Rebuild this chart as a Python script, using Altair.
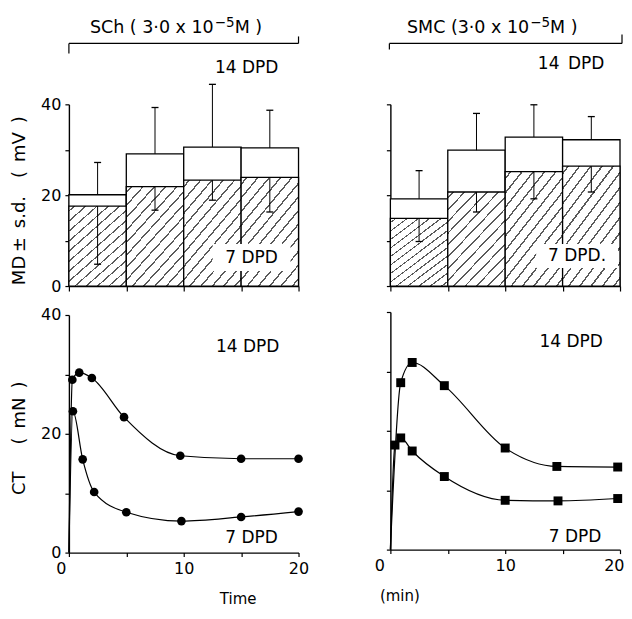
import altair as alt
import pandas as pd

FONT = "DejaVu Sans"
W = 230
HT = 182
HB = 238
EN = "\u2002"

# ---- data: membrane depolarisation bars (mV) ----
bar_slot = [0, 1, 2, 3]
sch_md14 = [20.1, 29.1, 30.6, 30.4]
sch_sd14 = [7.1, 10.2, 13.8, 8.3]
sch_md7 = [17.6, 21.9, 23.3, 23.9]
sch_sd7 = [12.8, 5.2, 4.4, 7.6]
smc_md14 = [19.2, 29.9, 32.8, 32.2]
smc_sd14 = [6.2, 8.1, 7.1, 5.1]
smc_md7 = [14.9, 20.7, 25.2, 26.4]
smc_sd7 = [5.1, 4.4, 6.0, 5.7]

# ---- data: contracture tension curves (mN) vs time (min) ----
sch_t14 = [0.3, 0.9, 2.0, 4.8, 9.7, 15.0, 20.0]
sch_v14 = [29.1, 30.3, 29.4, 22.8, 16.3, 15.8, 15.8]
sch_t7 = [0.35, 1.2, 2.2, 5.0, 9.8, 15.0, 20.0]
sch_v7 = [23.8, 15.7, 10.2, 6.8, 5.3, 6.0, 6.9]
smc_t14 = [0.9, 1.9, 4.7, 10.0, 14.5, 19.8]
smc_v14 = [28.1, 31.5, 27.6, 17.1, 14.0, 13.9]
smc_t7 = [0.4, 0.9, 1.9, 4.7, 10.0, 14.6, 19.8]
smc_v7 = [17.6, 18.8, 16.6, 12.3, 8.3, 8.2, 8.6]
curve_start = [0.0, 0.0]

y_ticks = [0, 10, 20, 30, 40]
x_ticks = [0, 5, 10, 15, 20]

# hatch pattern as a striped gradient (roughly 45 degree stripes)
stops = [alt.GradientStop(offset=0, color="white")]
N = 13
for i in range(N):
    s = (i + 0.42) / N
    e = (i + 0.58) / N
    stops += [alt.GradientStop(offset=s, color="white"),
              alt.GradientStop(offset=s, color="#5a5a5a"),
              alt.GradientStop(offset=e, color="#5a5a5a"),
              alt.GradientStop(offset=e, color="white")]
stops.append(alt.GradientStop(offset=1, color="white"))
hatch = alt.Gradient(gradient="linear", stops=stops, x1=0, y1=0, x2=0.74, y2=1.16)


def one():
    return alt.Chart(alt.Data(values=[{"k": 0}]))


def label(text, x, y, size=17, align="center"):
    return one().mark_text(text=text, font=FONT, fontSize=size, color="black",
                           align=align, baseline="middle").encode(
        x=alt.value(x), y=alt.value(y))


def white_box(x, x2, y, y2):
    return one().mark_rect(fill="white").encode(
        x=alt.value(x), x2=alt.value(x2), y=alt.value(y), y2=alt.value(y2))


def rule(x, x2, y, y2):
    return one().mark_rule(color="black", strokeWidth=1.2).encode(
        x=alt.value(x), x2=alt.value(x2), y=alt.value(y), y2=alt.value(y2))


def bar_panel(md14, sd14, md7, sd7, left, t1, t3, tx, hooks, l14, l7, box, l7text):
    df = pd.DataFrame({"slot": bar_slot, "md14": md14, "sd14": sd14,
                       "md7": md7, "sd7": sd7})
    df["x1"] = df["slot"] + 1
    df["xc"] = df["slot"] + 0.5
    df["zero"] = 0
    df["hi14"] = df["md14"] + df["sd14"]
    df["lo7"] = df["md7"] - df["sd7"]
    xs = alt.Scale(domain=[0, 4], nice=False)
    ys = alt.Scale(domain=[0, 40], nice=False)
    xax = alt.Axis(values=[0, 1, 2, 3, 4], labels=False, title=None, tickSize=5)
    if left:
        yax = alt.Axis(values=y_ticks,
                       labelExpr="datum.value % 20 == 0 ? datum.label : ''",
                       title="MD\u2009±" + EN + "s.d." + EN + EN + "(" + EN + "mV" + EN + ")",
                       titlePadding=12, titleFontSize=18, titleY=HT / 2 + 5)
    else:
        yax = alt.Axis(values=y_ticks, labels=False, title=None)
    base = alt.Chart(df)
    b14 = base.mark_rect(fill="white", stroke="black", strokeWidth=1.3).encode(
        x=alt.X("slot:Q", scale=xs, axis=xax), x2="x1:Q",
        y=alt.Y("md14:Q", scale=ys, axis=yax), y2="zero:Q")
    b7 = base.mark_rect(fill=hatch, stroke="black", strokeWidth=1.3).encode(
        x="slot:Q", x2="x1:Q", y="md7:Q", y2="zero:Q")
    e14 = base.mark_rule(color="black", strokeWidth=1).encode(
        x="xc:Q", y="md14:Q", y2="hi14:Q")
    c14 = base.mark_tick(orient="horizontal", size=7, thickness=1.3,
                         color="black", opacity=1).encode(x="xc:Q", y="hi14:Q")
    e7 = base.mark_rule(color="black", strokeWidth=1).encode(
        x="xc:Q", y="md7:Q", y2="lo7:Q")
    c7 = base.mark_tick(orient="horizontal", size=7, thickness=1.3,
                        color="black", opacity=1).encode(x="xc:Q", y="lo7:Q")
    by = -61
    layers = [b14, b7, e14, c14, e7, c7,
              white_box(*box),
              label(l7text, l7[0], l7[1]),
              label(l14[2], l14[0], l14[1]),
              label(t1, tx, -76, size=17.5, align="right"),
              label("\u22125", tx + 1, -81, size=13.5, align="left"),
              label(t3, tx + 21, -76, size=17.5, align="left"),
              rule(hooks[0], W + hooks[1], by, by),
              rule(hooks[0], hooks[0], by, by + hooks[2]),
              rule(W + hooks[1], W + hooks[1], by, by - hooks[3])]
    return alt.layer(*layers).properties(width=W, height=HT)


def curve_panel(t14, v14, t7, v7, shape, left, xtitle, xtitle_x, size, l14, l7):
    rows = []
    for s, ts, vs in (("14", t14, v14), ("7", t7, v7)):
        rows.append({"series": s, "t": curve_start[0], "v": curve_start[1], "pt": 0})
        for t, v in zip(ts, vs):
            rows.append({"series": s, "t": t, "v": v, "pt": 1})
    df = pd.DataFrame(rows)
    xs = alt.Scale(domain=[0, 20], nice=False)
    ys = alt.Scale(domain=[0, 40], nice=False)
    if left:
        al = {"condition": {"test": "datum.value == 0", "value": "right"}, "value": "center"}
        off = {"condition": {"test": "datum.value == 0", "value": -3}, "value": 0}
    else:
        al = {"condition": {"test": "datum.value == 0 || datum.value == 20", "value": "right"},
              "value": "center"}
        off = {"condition": [{"test": "datum.value == 0", "value": -6},
                             {"test": "datum.value == 20", "value": 4}], "value": 0}
    xax = alt.Axis(values=x_ticks,
                   labelExpr="datum.value % 10 == 0 ? datum.label : ''",
                   labelAlign=al, labelOffset=off,
                   title=xtitle, titleX=xtitle_x, titleFontSize=15, titlePadding=15)
    if left:
        yax = alt.Axis(values=y_ticks,
                       labelExpr="datum.value % 20 == 0 ? datum.label : ''",
                       title="CT" + EN + EN + EN + "(" + EN + "mN" + EN + ")",
                       titlePadding=12, titleFontSize=18, titleY=HB / 2 + 4)
    else:
        yax = alt.Axis(values=y_ticks, labels=False, title=None)
    base = alt.Chart(df)
    line = base.mark_line(interpolate="monotone", color="black", strokeWidth=1.2).encode(
        x=alt.X("t:Q", scale=xs, axis=xax),
        y=alt.Y("v:Q", scale=ys, axis=yax),
        detail="series:N", order="t:Q")
    pts = base.transform_filter("datum.pt == 1").mark_point(
        shape=shape, filled=True, size=size, color="black", opacity=1).encode(
        x="t:Q", y="v:Q")
    return alt.layer(line, pts,
                     label("14 DPD", l14[0], l14[1]),
                     label("7 DPD", l7[0], l7[1])).properties(width=W, height=HB)


tl = bar_panel(sch_md14, sch_sd14, sch_md7, sch_sd7, True,
               "SCh ( 3·0 x 10", "M )", 145, (0, 0, 10, 7),
               (178, -36, "14 DPD"), (183, 154), (144, 222, 140, 167), "7 DPD")
tr = bar_panel(smc_md14, smc_sd14, smc_md7, smc_sd7, False,
               "SMC (3·0 x 10", "M )", 139, (-1, 2, 6, 9),
               (181, -40, "14" + EN + "DPD"), (187, 152), (146, 228, 140, 164), "7 DPD.")
bl = curve_panel(sch_t14, sch_v14, sch_t7, sch_v7, "circle", True, "Time", 169, 75,
                 (179, 32), (183, 223))
br = curve_panel(smc_t14, smc_v14, smc_t7, smc_v7, "square", False, "(min)", 9, 80,
                 (181, 30), (185, 225))

chart = alt.hconcat(
    alt.vconcat(tl, bl, spacing=13),
    alt.vconcat(tr, br, spacing=19),
    spacing=64,
).configure_view(stroke=None).configure_axis(
    domainColor="black", tickColor="black", labelColor="black", titleColor="black",
    labelFont=FONT, titleFont=FONT, labelFontSize=16, titleFontSize=17,
    titleFontWeight="normal", grid=False, domainWidth=1.4, tickWidth=1.2,
    tickSize=4, labelPadding=4,
).properties(padding={"left": 2, "right": 0, "top": 8, "bottom": 0})

chart.save("out.html", embed_options={"renderer": "svg", "actions": False})
